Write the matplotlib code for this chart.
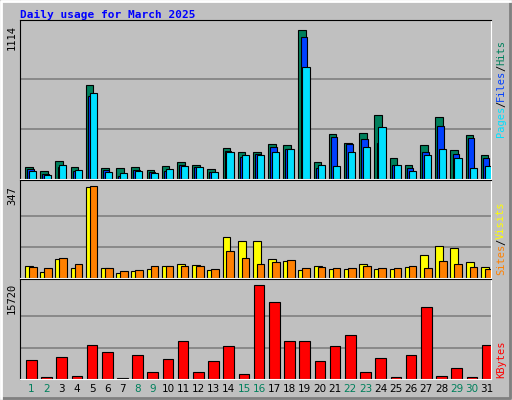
import matplotlib
matplotlib.use("Agg")
import matplotlib.pyplot as plt

days = list(range(1, 32))
weekend = [1, 2, 8, 9, 15, 16, 22, 23, 29, 30]

hits = [93, 63, 138, 93, 703, 85, 85, 93, 70, 100, 130, 108, 78, 228, 198, 198,
        259, 251, 1114, 130, 334, 266, 341, 477, 153, 108, 251, 462, 213, 326, 176]
files = [78, 40, 93, 60, 622, 70, 25, 70, 55, 63, 108, 93, 55, 206, 161, 183,
         236, 221, 1057, 85, 311, 259, 296, 266, 108, 85, 198, 394, 183, 304, 153]
pages = [63, 33, 108, 70, 643, 55, 48, 63, 48, 78, 100, 93, 55, 198, 176, 176,
         198, 221, 838, 108, 100, 198, 236, 387, 108, 63, 176, 221, 153, 85, 100]
visits = [46, 23, 71, 38, 342, 38, 20, 27, 34, 46, 53, 49, 31, 153, 138, 138,
          71, 64, 31, 46, 34, 34, 53, 34, 34, 42, 86, 119, 112, 60, 42]
sites = [42, 38, 75, 53, 347, 38, 27, 31, 46, 46, 46, 46, 34, 101, 75, 53,
         60, 68, 38, 42, 38, 38, 46, 38, 38, 46, 38, 64, 53, 42, 34]
kbytes = [3157, 400, 3670, 570, 5740, 4530, 230, 4020, 1090, 3330, 6260, 1090,
          2985, 5570, 750, 15720, 12800, 6260, 6260, 2985, 5570, 7290, 1090,
          3500, 400, 4020, 11940, 570, 1780, 400, 5740]

W, H = 512, 400
fig = plt.figure(figsize=(W / 100, H / 100), dpi=100)
fig.patch.set_facecolor('#c0c0c0')

# outer 3d frame
frame = fig.add_axes([0, 0, 1, 1])
frame.set_xlim(0, W); frame.set_ylim(H, 0); frame.axis('off')
frame.plot([1, W - 2, W - 2], [H - 2, H - 2, 1], color='#808080', lw=2)
frame.plot([1, 1, W - 2], [H - 2, 1, 1], color='white', lw=2)

mono = 'DejaVu Sans Mono'
fig.text(20 / W, 1 - 15 / H, 'Daily usage for March 2025', color='#0000ff',
         fontsize=8, fontweight='bold', family=mono, va='center')

x = list(range(31))


def panel(y0, y1):
    ax = fig.add_axes([20 / W, 1 - y1 / H, 471 / W, (y1 - y0) / H])
    ax.set_facecolor('#c0c0c0')
    ax.set_xlim(-0.33, 30.67)
    ax.set_xticks([]); ax.set_yticks([])
    for s in ax.spines.values():
        s.set_color('black')
    ax.spines['bottom'].set_color('white')
    ax.spines['right'].set_color('white')
    return ax


def grid(ax, top):
    for f in (1 / 3, 2 / 3):
        ax.axhline(top * f, color='#808080', lw=1.2, zorder=0)


bk = dict(edgecolor='black', linewidth=0.8, align='edge')

ax1 = panel(20, 179)
ax1.set_ylim(0, max(hits) * 1.065)
grid(ax1, max(hits))
ax1.bar([i + 0.0 for i in x], hits, 0.5, color='#00805c', **bk)
ax1.bar([i + 0.14 for i in x], files, 0.42, color='#0040ff', **bk)
ax1.bar([i + 0.26 for i in x], pages, 0.47, color='#00e0ff', **bk)

ax2 = panel(180, 278)
ax2.set_ylim(0, max(sites) * 1.06)
grid(ax2, max(sites))
ax2.bar([i + 0.0 for i in x], visits, 0.52, color='#ffff00', **bk)
ax2.bar([i + 0.26 for i in x], sites, 0.5, color='#ff8000', **bk)

ax3 = panel(279, 379)
ax3.set_ylim(0, max(kbytes) * 1.06)
grid(ax3, max(kbytes))
ax3.bar([i + 0.06 for i in x], kbytes, 0.7, color='#ff0000', **bk)

for d in days:
    xpos = (20 + (d - 1 + 0.33 + 0.41) * 471 / 31) / W
    fig.text(xpos, 1 - 389 / H, str(d), ha='center', va='center', fontsize=7.5,
             color='#00805c' if d in weekend else 'black')

# left max labels
for val, yc in ((1114, 38), (347, 196), (15720, 298)):
    fig.text(12 / W, 1 - yc / H, str(val), rotation=90, ha='center', va='center',
             fontsize=7.5, family=mono)


def side(parts, ybot):
    y = ybot
    for txt, col in parts:
        t = fig.text(501 / W, 1 - y / H, txt, rotation=90, ha='center', va='bottom',
                     fontsize=7.5, family=mono, color=col)
        y -= len(txt) * 6.0


side([('Pages', '#00e0ff'), ('/', 'black'), ('Files', '#0040ff'), ('/', 'black'),
      ('Hits', '#00805c')], 137)
side([('Sites', '#ff8000'), ('/', 'black'), ('Visits', '#ffff00')], 275)
side([('KBytes', '#ff0000')], 378)

fig.savefig('out.png', dpi=100, facecolor=fig.get_facecolor())
